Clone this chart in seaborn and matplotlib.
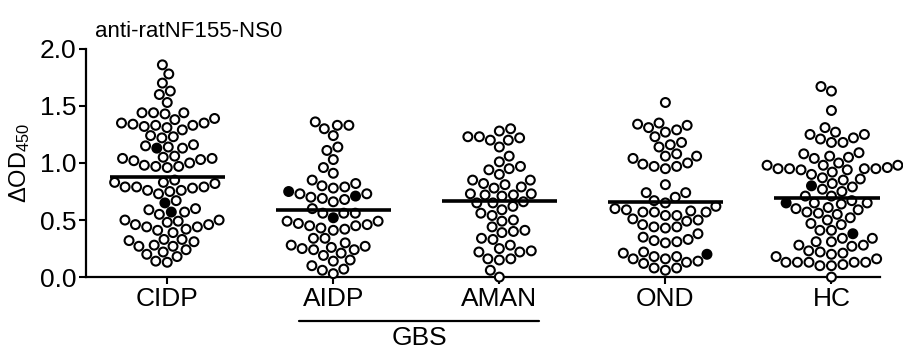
import matplotlib
matplotlib.use("Agg")
import matplotlib.pyplot as plt
import matplotlib.transforms as mtransforms
import seaborn as sns
import pandas as pd
import numpy as np

# values (delta OD450 per sample)
groups = ["CIDP", "AIDP", "AMAN", "OND", "HC"]

cidp_open = [1.86, 1.78, 1.70, 1.63, 1.60, 1.53,
             1.44, 1.44, 1.43, 1.44,
             1.38, 1.35, 1.33, 1.31, 1.29, 1.32, 1.33, 1.34, 1.35, 1.39,
             1.24, 1.22, 1.15, 1.13, 1.14, 1.16, 1.23,
             1.06, 1.04, 1.03, 1.00, 0.97, 0.96, 0.97, 0.98, 1.02, 1.04, 1.05,
             0.85, 0.83, 0.82, 0.83,
             0.79, 0.79, 0.78, 0.75, 0.67, 0.73, 0.76, 0.76, 0.79,
             0.59, 0.57, 0.55, 0.60,
             0.50, 0.48, 0.46, 0.44, 0.41, 0.42, 0.44, 0.46, 0.49, 0.50,
             0.39, 0.33, 0.32, 0.27, 0.27, 0.28, 0.31, 0.33,
             0.22, 0.18, 0.13, 0.14, 0.20, 0.24]
cidp_filled = [1.13, 0.65, 0.57]

aidp_open = [1.36, 1.33, 1.24, 1.30, 1.33,
             1.14, 1.11, 1.03, 0.91, 0.96,
             0.82, 0.79, 0.73, 0.78, 0.80, 0.85,
             0.73, 0.70, 0.68, 0.66, 0.69,
             0.60,
             0.56, 0.49, 0.47, 0.49, 0.56, 0.56,
             0.45, 0.43, 0.41, 0.42, 0.45, 0.46,
             0.34, 0.34,
             0.28, 0.26, 0.24, 0.21, 0.19, 0.24, 0.25, 0.27, 0.30,
             0.14, 0.07, 0.03, 0.06, 0.10, 0.15]
aidp_filled = [0.75, 0.71, 0.52]

aman_open = [1.28, 1.23, 1.20, 1.20, 1.22, 1.23, 1.30,
             1.14, 1.06, 1.01,
             0.95, 0.94, 0.97, 0.90,
             0.85, 0.82, 0.79, 0.81, 0.85, 0.78,
             0.73, 0.72, 0.71, 0.72, 0.73,
             0.65, 0.66, 0.65,
             0.59, 0.54, 0.56, 0.62,
             0.50, 0.49,
             0.40, 0.34, 0.44, 0.41, 0.33, 0.39, 0.28,
             0.23, 0.22, 0.16, 0.15, 0.16, 0.22, 0.25,
             0.00, 0.06]
aman_filled = []

ond_open = [1.53,
            1.35, 1.33, 1.29, 1.23, 1.27, 1.31, 1.34,
            1.16, 1.14, 1.18, 1.08, 1.06,
            1.06, 1.00, 0.97, 0.95, 0.97, 0.99, 1.04,
            0.81, 0.74, 0.74,
            0.67, 0.70, 0.65,
            0.62, 0.59, 0.57, 0.57, 0.57, 0.58, 0.60,
            0.54, 0.50, 0.46, 0.44, 0.49, 0.51, 0.54,
            0.44, 0.43,
            0.38, 0.30, 0.33, 0.31, 0.32, 0.35,
            0.16, 0.13, 0.21, 0.18, 0.18, 0.22, 0.16,
            0.08, 0.06, 0.08, 0.12, 0.14]
ond_filled = [0.20]

hc_open = [1.67, 1.63, 1.46,
           1.27, 1.21, 1.25, 1.18, 1.22, 1.25, 1.31, 1.18,
           1.08, 1.09,
           1.05, 1.00, 0.98, 0.96, 0.95, 0.95, 0.95, 0.98, 0.98, 1.04, 1.06,
           0.95, 0.94, 0.90, 0.86, 0.82, 0.85, 0.87, 0.92, 0.94,
           0.79, 0.75, 0.77,
           0.65, 0.64, 0.71, 0.67, 0.71, 0.60, 0.57, 0.55, 0.56, 0.59, 0.61, 0.65,
           0.52, 0.47, 0.41, 0.41, 0.46, 0.50,
           0.34, 0.31, 0.28, 0.27, 0.28, 0.31, 0.34,
           0.23, 0.21, 0.16, 0.20, 0.18, 0.22,
           0.13, 0.11, 0.13, 0.13, 0.13, 0.10, 0.10, 0.13,
           0.00]
hc_filled = [0.80, 0.65, 0.38]

open_vals = [cidp_open, aidp_open, aman_open, ond_open, hc_open]
filled_vals = [cidp_filled, aidp_filled, aman_filled, ond_filled, hc_filled]

rows = []
for g, ov, fv in zip(groups, open_vals, filled_vals):
    rows += [(g, v, "open") for v in ov]
    rows += [(g, v, "filled") for v in fv]
df = pd.DataFrame(rows, columns=["group", "od", "kind"])

sns.set_style("ticks")
plt.rcParams["font.family"] = ["Liberation Sans", "DejaVu Sans"]
plt.rcParams["mathtext.default"] = "regular"
plt.rcParams["text.color"] = "black"
plt.rcParams["axes.labelcolor"] = "black"

fig = plt.figure(figsize=(9.04, 3.49), dpi=100)
ax = fig.add_axes([0.095, 0.206, 0.878, 0.654])

sns.swarmplot(data=df, x="group", y="od", hue="kind", order=groups,
              hue_order=["open", "filled"],
              palette={"open": "white", "filled": "black"},
              edgecolor="black", linewidth=1.5, size=6.4, legend=False,
              warn_thresh=1, ax=ax)
for c in ax.collections:
    c.set_clip_on(False)

# mean lines
means = df.groupby("group")["od"].mean().reindex(groups)
xs = np.arange(len(groups))
ax.hlines(means.values, xs - 0.345, xs + 0.345, color="black", lw=2.6, zorder=5)

ax.set_xlim(-0.49, 4.29)
ax.set_ylim(0, 2.0)
ax.set_yticks([0, 0.5, 1.0, 1.5, 2.0])
ax.set_yticklabels(["0.0", "0.5", "1.0", "1.5", "2.0"], fontsize=19)
ax.set_xticks(xs)
ax.set_xticklabels(groups, fontsize=19)
ax.tick_params(width=1.5, length=5, color="black", labelcolor="black", pad=2)
for s in ["left", "bottom"]:
    ax.spines[s].set_linewidth(1.6)
    ax.spines[s].set_color("black")
sns.despine(ax=ax)
ax.set_xlabel("")
ax.set_ylabel(r"$\Delta$OD$_{450}$", fontsize=17, color="black")
ax.yaxis.set_label_coords(-0.068, 0.5)

ax.text(0.011, 1.05, "anti-ratNF155-NS0", transform=ax.transAxes,
        fontsize=16, ha="left", va="baseline", color="black")

# GBS bracket under AIDP and AMAN
trans = mtransforms.blended_transform_factory(ax.transData, ax.transAxes)
ax.plot([0.795, 2.24], [-0.193, -0.193], color="black", lw=1.6,
        transform=trans, clip_on=False)
ax.text(1.52, -0.215, "GBS", transform=trans, ha="center", va="top",
        fontsize=19, color="black")

fig.savefig("out.png", dpi=100)
